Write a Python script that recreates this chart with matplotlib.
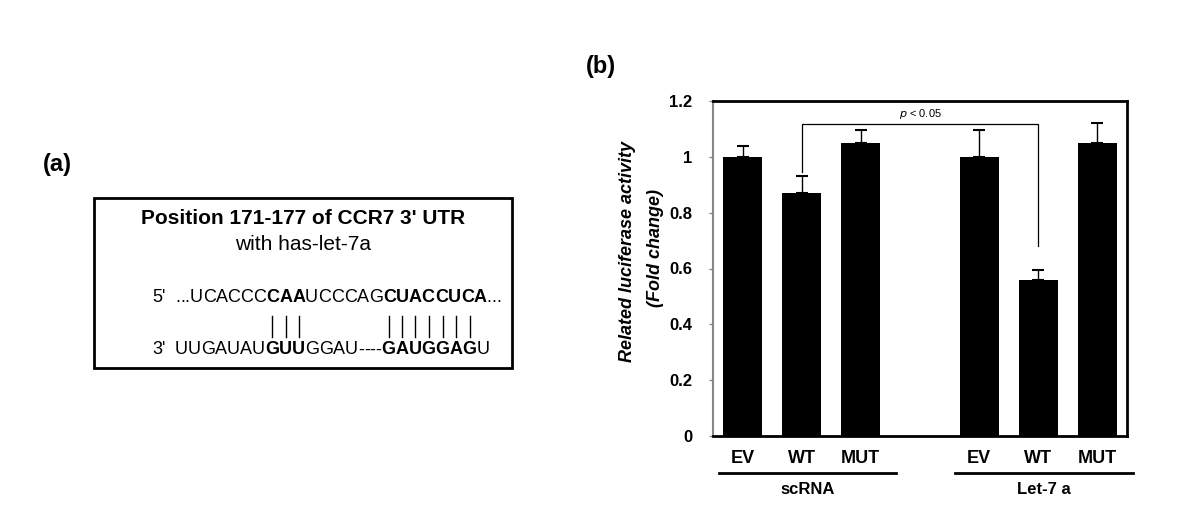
import matplotlib
matplotlib.use('Agg')
import matplotlib.pyplot as plt
import matplotlib.transforms as mtransforms

plt.rcParams['font.family'] = ['Liberation Sans', 'DejaVu Sans']

# data
categories = ['EV', 'WT', 'MUT', 'EV', 'WT', 'MUT']
positions = [0, 1, 2, 4, 5, 6]
values = [1.00, 0.87, 1.05, 1.00, 0.56, 1.05]
errors = [0.04, 0.06, 0.045, 0.095, 0.035, 0.07]
groups = ['scRNA', 'Let-7 a']
group_spans = [(-0.4, 2.6), (3.6, 6.6)]
ytick_vals = [0, 0.2, 0.4, 0.6, 0.8, 1.0, 1.2]
ytick_labels = ['0', '0.2', '0.4', '0.6', '0.8', '1', '1.2']

seq_top = [('...UCACCC', False), ('CAA', True), ('UCCCAG', False),
           ('CUACCUCA', True), ('...', False)]
seq_bottom = [('UUGAUAU', False), ('GUU', True), ('GGAU----', False),
              ('GAUGGAG', True), ('U', False)]

W, H = 1200, 517
fig = plt.figure(figsize=(W / 100, H / 100), dpi=100)

# overlay in pixel coordinates for panel (a) and labels
ov = fig.add_axes([0, 0, 1, 1])
ov.set_xlim(0, W)
ov.set_ylim(H, 0)
ov.axis('off')

ov.text(57, 164, '(a)', fontsize=17, fontweight='bold', ha='center', va='center')
ov.text(601, 67, '(b)', fontsize=17, fontweight='bold', ha='center', va='center')

box = plt.Rectangle((94, 198), 418, 170, fill=False, lw=2, ec='black')
ov.add_patch(box)
ov.text(303, 219, "Position 171-177 of CCR7 3' UTR", fontsize=15,
        fontweight='bold', ha='center', va='center')
ov.text(303, 245, 'with has-let-7a', fontsize=15, ha='center', va='center')

fig.canvas.draw()
renderer = fig.canvas.get_renderer()


def draw_seq(x0, y, segments):
    x = x0
    centers = []
    for s, bold in segments:
        for ch in s:
            t = ov.text(x, y, ch, fontsize=13,
                        fontweight='bold' if bold else 'normal',
                        ha='left', va='center')
            w = t.get_window_extent(renderer).width
            if bold:
                centers.append(x + w / 2)
            x += w
    return centers


ov.text(152, 298, "5'", fontsize=13, ha='left', va='center')
ov.text(152, 350, "3'", fontsize=13, ha='left', va='center')
draw_seq(175, 298, seq_top)
pair_x = draw_seq(175, 350, seq_bottom)
for px in pair_x:
    ov.plot([px, px], [316, 337], color='black', lw=1)

# panel (b)
ax = fig.add_axes([713 / W, 1 - 436 / H, (1127 - 713) / W, (436 - 101) / H])
ax.bar(positions, values, width=0.66, color='black', zorder=2)
ax.errorbar(positions, values, yerr=[[0] * len(errors), errors], fmt='none',
            ecolor='black', elinewidth=1, capsize=4, capthick=1.5, zorder=1)
ax.set_xlim(-0.5, 6.5)
ax.set_ylim(0, 1.2)
ax.set_yticks(ytick_vals)
ax.set_yticklabels(ytick_labels, fontsize=12, fontweight='bold')
ax.tick_params(axis='y', length=3, width=1, color='#888888', pad=12)
ax.set_xticks([])
ax.spines['left'].set_color('#888888')
ax.spines['left'].set_linewidth(1.5)
for sp in ['top', 'right', 'bottom']:
    ax.spines[sp].set_linewidth(2)
    ax.spines[sp].set_color('black')

# significance bracket
ax.plot([1, 1, 5, 5], [0.947, 1.118, 1.118, 0.68], color='black', lw=0.9)
ax.text(3.0, 1.152, '$p$ < 0.05', fontsize=8, ha='center', va='center')

trans = mtransforms.blended_transform_factory(ax.transData, ax.transAxes)
for p, c in zip(positions, categories):
    ax.text(p, -0.066, c, transform=trans, fontsize=13, fontweight='bold',
            ha='center', va='center')
for (a, b), g in zip(group_spans, groups):
    ax.plot([a, b], [-0.110, -0.110], transform=trans, color='black', lw=2,
            clip_on=False)
    ax.text((a + b) / 2, -0.161, g, transform=trans, fontsize=12,
            fontweight='bold', ha='center', va='center')

ov.text(628, 252, 'Related luciferase activity', fontsize=13, style='italic',
        fontweight='bold', rotation=90, ha='center', va='center')
ov.text(655, 248, '(Fold change)', fontsize=13, style='italic',
        fontweight='bold', rotation=90, ha='center', va='center')

fig.savefig('out.png', dpi=100)
